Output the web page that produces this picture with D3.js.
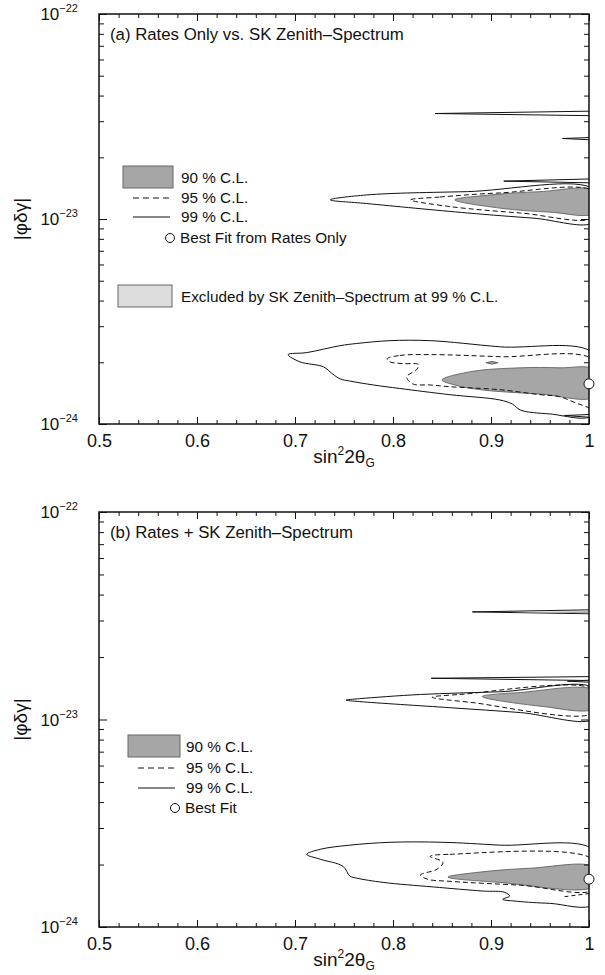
<!DOCTYPE html>
<html>
<head>
<meta charset="utf-8">
<script src="https://cdn.jsdelivr.net/npm/d3@7"></script>
<style>
  body { margin: 0; background: #fff; }
  text { font-family: "Liberation Sans", Arial, Helvetica, sans-serif; fill: #111; }
</style>
</head>
<body>
<div id="chart"></div>
<script>
// contour points: [sin^2 2theta_G, |phi delta gamma|]
// panel (a): rates only
var a_spikes = [
  [[0.843, 3.27e-23], [1.005, 3.36e-23], [1.005, 3.19e-23]],
  [[0.973, 2.47e-23], [1.005, 2.50e-23], [1.005, 2.43e-23]],
  [[0.913, 1.53e-23], [1.005, 1.57e-23], [1.005, 1.50e-23]]
];
var a_lobe99 = [[0.736, 1.24e-23], [0.773, 1.31e-23], [0.876, 1.36e-23], [1.005, 1.39e-23],
  [1.005, 9.67e-24], [0.943, 1.01e-23], [0.876, 1.07e-23], [0.773, 1.19e-23]];
var a_lobe95 = [[0.818, 1.24e-23], [0.848, 1.28e-23], [0.909, 1.34e-23], [1.005, 1.36e-23],
  [1.005, 1.02e-23], [0.930, 1.07e-23], [0.858, 1.15e-23]];
var a_lobe90 = [[0.863, 1.24e-23], [0.899, 1.31e-23], [0.95, 1.36e-23], [1.005, 1.37e-23],
  [1.005, 1.07e-23], [0.96, 1.08e-23], [0.909, 1.13e-23]];
var a_low99 = [[0.693, 2.18e-24], [0.712, 2.23e-24], [0.746, 2.41e-24], [0.763, 2.47e-24],
  [0.797, 2.55e-24], [0.838, 2.55e-24], [0.909, 2.38e-24], [1.005, 2.20e-24],
  [1.005, 1.11e-24], [0.960, 1.12e-24], [0.930, 1.17e-24], [0.922, 1.25e-24],
  [0.909, 1.31e-24], [0.858, 1.39e-24], [0.807, 1.49e-24], [0.780, 1.55e-24],
  [0.756, 1.62e-24], [0.746, 1.66e-24], [0.738, 1.76e-24], [0.729, 1.90e-24], [0.705, 2.01e-24]];
var a_low99bit = [[0.975, 1.10e-24], [1.005, 1.115e-24], [1.005, 1.075e-24]];
var a_low95 = [[0.794, 2.08e-24], [0.807, 2.16e-24], [0.838, 2.18e-24], [0.909, 2.13e-24],
  [1.005, 2.04e-24], [1.005, 1.21e-24], [0.990, 1.25e-24], [0.970, 1.36e-24],
  [0.950, 1.39e-24], [0.909, 1.47e-24], [0.858, 1.52e-24], [0.838, 1.55e-24],
  [0.820, 1.57e-24], [0.814, 1.70e-24], [0.824, 1.84e-24], [0.826, 1.95e-24],
  [0.810, 1.97e-24], [0.797, 2.01e-24]];
var a_low90 = [[0.850, 1.64e-24], [0.879, 1.80e-24], [0.930, 1.88e-24], [0.970, 1.88e-24],
  [1.005, 1.84e-24], [1.005, 1.36e-24], [0.950, 1.40e-24], [0.889, 1.47e-24], [0.863, 1.55e-24]];
var a_dot90 = [[0.895, 1.99e-24], [0.901, 2.02e-24], [0.907, 1.99e-24], [0.901, 1.96e-24]];
var a_best = [1.0, 1.57e-24];

// panel (b): rates + SK zenith spectrum
var b_spikes = [
  [[0.881, 3.30e-23], [1.005, 3.38e-23], [1.005, 3.23e-23]],
  [[0.839, 1.58e-23], [1.005, 1.61e-23], [1.005, 1.54e-23]],
  [[0.978, 1.53e-23], [1.005, 1.55e-23], [1.005, 1.51e-23]]
];
var b_spikeGray = [[0.92, 3.29e-23], [1.005, 3.33e-23], [1.005, 3.25e-23]];
var b_lobe99 = [[0.752, 1.24e-23], [0.766, 1.26e-23], [0.828, 1.32e-23], [0.909, 1.36e-23],
  [1.005, 1.41e-23], [1.005, 1.01e-23], [0.930, 1.08e-23], [0.858, 1.14e-23], [0.766, 1.22e-23]];
var b_lobe95 = [[0.840, 1.28e-23], [0.868, 1.32e-23], [1.005, 1.39e-23], [1.005, 1.08e-23], [0.879, 1.21e-23]];
var b_lobe90 = [[0.891, 1.29e-23], [0.930, 1.35e-23], [1.005, 1.38e-23], [1.005, 1.13e-23], [0.950, 1.16e-23]];
var b_low99 = [[0.712, 2.24e-24], [0.726, 2.37e-24], [0.756, 2.48e-24], [0.797, 2.56e-24],
  [0.851, 2.56e-24], [0.909, 2.48e-24], [1.005, 2.34e-24], [1.005, 1.29e-24],
  [0.960, 1.30e-24], [0.927, 1.33e-24], [0.912, 1.36e-24], [0.919, 1.41e-24],
  [0.914, 1.47e-24], [0.892, 1.49e-24], [0.841, 1.56e-24], [0.790, 1.64e-24],
  [0.763, 1.72e-24], [0.756, 1.76e-24], [0.749, 1.96e-24], [0.726, 2.12e-24]];
var b_low95 = [[0.838, 2.19e-24], [0.858, 2.24e-24], [1.005, 2.10e-24], [1.005, 1.52e-24],
  [0.930, 1.59e-24], [0.858, 1.66e-24], [0.835, 1.70e-24], [0.828, 1.78e-24],
  [0.845, 1.90e-24], [0.851, 2.05e-24]];
var b_low95bit = [[0.975, 1.40e-24], [1.0, 1.45e-24]];
var b_low90 = [[0.856, 1.74e-24], [0.889, 1.84e-24], [0.940, 1.92e-24], [1.005, 1.94e-24],
  [1.005, 1.57e-24], [0.909, 1.64e-24]];
var b_best = [1.0, 1.70e-24];

// axis ticks
var xMajor = [0.5, 0.6, 0.7, 0.8, 0.9, 1.0];
var xMinor = [0.52, 0.54, 0.56, 0.58, 0.62, 0.64, 0.66, 0.68, 0.72, 0.74, 0.76, 0.78,
  0.82, 0.84, 0.86, 0.88, 0.92, 0.94, 0.96, 0.98];
var yMajor = [1e-24, 1e-23, 1e-22];
var yMinor = [2e-24, 3e-24, 4e-24, 5e-24, 6e-24, 7e-24, 8e-24, 9e-24,
  2e-23, 3e-23, 4e-23, 5e-23, 6e-23, 7e-23, 8e-23, 9e-23];

//constants
var width = 605;
var height = 975;
var left = 99, right = 589;
var gray = "#a6a6a6";
var ink = "#111";
var fontsize = 15;

var svg = d3.select("#chart")
  .append("svg")
  .attr("width", width)
  .attr("height", height);

function drawPanel(p) {
  var x = d3.scaleLinear().domain([0.5, 1]).range([left, right]);
  var y = d3.scaleLog().domain([1e-24, 1e-22]).range([p.bottom, p.top]);

  var smooth = d3.line().x(d => x(d[0])).y(d => y(d[1])).curve(d3.curveCatmullRomClosed.alpha(0.5));
  var straight = d3.line().x(d => x(d[0])).y(d => y(d[1])).curve(d3.curveLinearClosed);
  var open = d3.line().x(d => x(d[0])).y(d => y(d[1]));

  var g = svg.append("g");

  svg.append("clipPath").attr("id", "clip" + p.id)
    .append("rect")
    .attr("x", left).attr("y", p.top)
    .attr("width", right - left).attr("height", p.bottom - p.top);

  var plot = g.append("g").attr("clip-path", "url(#clip" + p.id + ")");

  //99% outer contours
  p.c99.forEach(function(c) {
    plot.append("path").attr("d", smooth(c))
      .style("fill", "#fff").style("stroke", ink).style("stroke-width", 1);
  });
  //90% gray
  p.c90.forEach(function(c) {
    plot.append("path").attr("d", smooth(c))
      .style("fill", gray).style("stroke", "#555").style("stroke-width", 0.8);
  });
  //95% dashed
  p.c95.forEach(function(c) {
    plot.append("path").attr("d", smooth(c))
      .style("fill", "none").style("stroke", ink).style("stroke-width", 1)
      .style("stroke-dasharray", "5,3");
  });
  (p.open95 || []).forEach(function(c) {
    plot.append("path").attr("d", open(c))
      .style("fill", "none").style("stroke", ink).style("stroke-width", 1)
      .style("stroke-dasharray", "4,3");
  });
  //narrow spikes
  p.spikes.forEach(function(c) {
    plot.append("path").attr("d", straight(c))
      .style("fill", "#fff").style("stroke", ink).style("stroke-width", 1);
  });
  (p.spikesGray || []).forEach(function(c) {
    plot.append("path").attr("d", straight(c))
      .style("fill", gray).style("stroke", "none");
  });
  (p.small || []).forEach(function(c) {
    plot.append("path").attr("d", straight(c))
      .style("fill", p.smallFill).style("stroke", "#444").style("stroke-width", 0.8);
  });

  //axes, ticks pointing inward
  var bottomAxis = d3.axisBottom(x).tickValues(xMajor).tickSize(-7).tickPadding(10)
    .tickFormat(d => d === 1 ? "1" : d3.format(".1f")(d));
  var gb = g.append("g").attr("transform", "translate(0," + p.bottom + ")").call(bottomAxis);
  gb.selectAll("text").style("font-size", "18px").style("fill", ink);
  g.append("g").attr("transform", "translate(0," + p.bottom + ")")
    .call(d3.axisBottom(x).tickValues(xMinor).tickSize(-4).tickFormat(""));
  g.append("g").attr("transform", "translate(0," + p.top + ")")
    .call(d3.axisTop(x).tickValues(xMajor).tickSize(-7).tickFormat(""));
  g.append("g").attr("transform", "translate(0," + p.top + ")")
    .call(d3.axisTop(x).tickValues(xMinor).tickSize(-4).tickFormat(""));
  g.append("g").attr("transform", "translate(" + left + ",0)")
    .call(d3.axisLeft(y).tickValues(yMajor).tickSize(-8).tickFormat(""));
  g.append("g").attr("transform", "translate(" + left + ",0)")
    .call(d3.axisLeft(y).tickValues(yMinor).tickSize(-5).tickFormat(""));
  g.append("g").attr("transform", "translate(" + right + ",0)")
    .call(d3.axisRight(y).tickValues(yMajor).tickSize(-8).tickFormat(""));
  g.append("g").attr("transform", "translate(" + right + ",0)")
    .call(d3.axisRight(y).tickValues(yMinor).tickSize(-5).tickFormat(""));
  g.selectAll(".domain").remove();
  g.selectAll(".tick line").style("stroke", ink);

  //frame
  g.append("rect")
    .attr("x", left).attr("y", p.top)
    .attr("width", right - left).attr("height", p.bottom - p.top)
    .style("fill", "none").style("stroke", ink).style("stroke-width", 1.5);

  //best fit point
  g.append("circle")
    .attr("cx", x(p.best[0])).attr("cy", y(p.best[1])).attr("r", 5)
    .style("fill", "#fff").style("stroke", ink).style("stroke-width", 1);

  //y tick labels 10^n
  yMajor.forEach(function(v) {
    var t = g.append("text")
      .attr("x", 78).attr("y", y(v) + 6)
      .style("text-anchor", "end").style("font-size", "17px");
    t.append("tspan").text("10");
    t.append("tspan").attr("dy", -8).style("font-size", "11px")
      .text("\u2212" + (-Math.round(Math.log10(v))));
  });

  //axis titles
  var xl = g.append("text")
    .attr("x", (left + right) / 2).attr("y", p.bottom + 39)
    .style("text-anchor", "middle").style("font-size", "19px");
  xl.append("tspan").text("sin");
  xl.append("tspan").attr("dy", -8).style("font-size", "12px").text("2");
  xl.append("tspan").attr("dy", 8).text("2\u03b8");
  xl.append("tspan").attr("dy", 4).style("font-size", "12px").text("G");

  g.append("text")
    .attr("transform", "translate(27," + ((p.top + p.bottom) / 2) + ") rotate(-90)")
    .style("text-anchor", "middle").style("font-size", "19px")
    .text("|\u03c6\u03b4\u03b3|");

  //panel title
  g.append("text")
    .attr("x", 110).attr("y", p.top + 26)
    .style("font-size", "16.8px")
    .text(p.title);

  return g;
}

//legend helpers
function legend(g, lx, ly, items) {
  items.forEach(function(it) {
    if (it.kind === "box") {
      g.append("rect").attr("x", lx + it.bx).attr("y", ly + it.dy - 17)
        .attr("width", it.bw).attr("height", 22)
        .style("fill", it.fill).style("stroke", "#666").style("stroke-width", 1);
    } else if (it.kind === "dash" || it.kind === "line") {
      g.append("line")
        .attr("x1", lx - 48).attr("x2", lx - 11)
        .attr("y1", ly + it.dy - 5).attr("y2", ly + it.dy - 5)
        .style("stroke", ink).style("stroke-width", 1)
        .style("stroke-dasharray", it.kind === "dash" ? "6,4" : null);
    } else if (it.kind === "dot") {
      g.append("circle").attr("cx", lx - 11).attr("cy", ly + it.dy - 5).attr("r", 4.5)
        .style("fill", "#fff").style("stroke", ink);
    }
    g.append("text").attr("x", lx + (it.kind === "dot" ? -1 : 0)).attr("y", ly + it.dy)
      .style("font-size", "15.3px").text(it.label);
  });
}

var ga = drawPanel({
  id: "a", top: 14, bottom: 424,
  title: "(a) Rates Only vs. SK Zenith\u2013Spectrum",
  c99: [a_lobe99, a_low99],
  c90: [a_lobe90, a_low90],
  c95: [a_lobe95, a_low95],
  spikes: a_spikes.concat([a_low99bit]),
  small: [a_dot90], smallFill: gray,
  best: a_best
});

legend(ga, 181, 183, [
  {kind: "box", dy: 0, bx: -58, bw: 50, fill: gray, label: "90 % C.L."},
  {kind: "dash", dy: 20, label: "95 % C.L."},
  {kind: "line", dy: 39, label: "99 % C.L."},
  {kind: "dot", dy: 60, label: "Best Fit from Rates Only"},
  {kind: "box", dy: 119, bx: -63, bw: 54, fill: "#dcdcdc", label: "Excluded by SK Zenith\u2013Spectrum at 99 % C.L."}
]);

var gbp = drawPanel({
  id: "b", top: 512, bottom: 927,
  title: "(b) Rates + SK Zenith\u2013Spectrum",
  c99: [b_lobe99, b_low99],
  c90: [b_lobe90, b_low90],
  c95: [b_lobe95, b_low95],
  open95: [b_low95bit],
  spikes: b_spikes,
  spikesGray: [b_spikeGray],
  best: b_best
});

legend(gbp, 186, 752, [
  {kind: "box", dy: 0, bx: -58, bw: 52, fill: gray, label: "90 % C.L."},
  {kind: "dash", dy: 21, label: "95 % C.L."},
  {kind: "line", dy: 41, label: "99 % C.L."},
  {kind: "dot", dy: 61, label: "Best Fit"}
]);
</script>
</body>
</html>
